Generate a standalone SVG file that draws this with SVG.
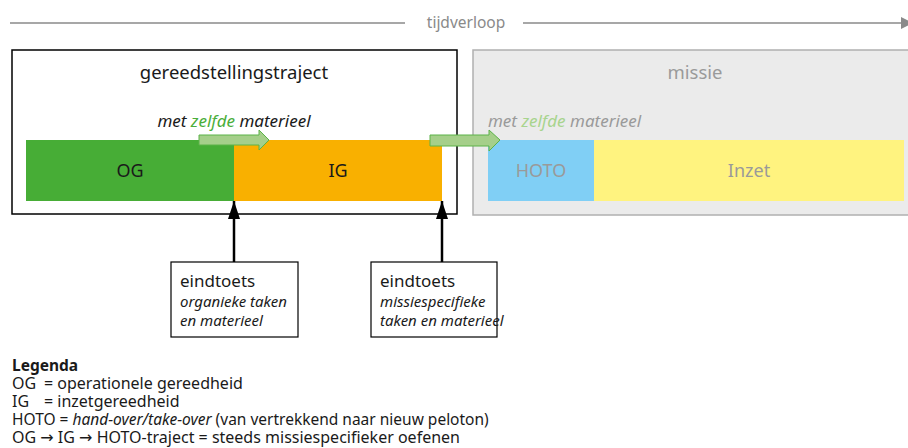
<svg xmlns="http://www.w3.org/2000/svg" width="908" height="448" viewBox="0 0 908 448">
<style>
text{font-family:"Noto Sans","Open Sans","DejaVu Sans",sans-serif;fill:#1a1a1a}
.it{font-style:italic}
.gray{fill:#9a9a9a}
.bar{font-size:18px;text-anchor:middle}
.note{font-size:15px}
.head{font-size:17px}
.leg{font-size:16px}
.mv{fill:#a5cf8a;stroke:#5cb349;stroke-width:1}
</style>
<defs>
<marker id="ah" viewBox="0 0 18 12" refX="18" refY="6" markerWidth="18" markerHeight="12" markerUnits="userSpaceOnUse" orient="auto">
<path d="M0,0 L18,6 L0,12 Z" fill="#000"/>
</marker>
</defs>
<g id="timeline">
<line x1="10" y1="23" x2="405" y2="23" stroke="#8a8a8a" stroke-width="1.6"/>
<line x1="523" y1="23" x2="903" y2="23" stroke="#8a8a8a" stroke-width="1.6"/>
<polygon points="901,17 913,23 901,29" fill="#8a8a8a"/>
<text x="466" y="28" font-size="15.5" text-anchor="middle" style="fill:#8a8a8a">tijdverloop</text>
</g>
<g id="gereedstellingstraject">
<rect x="12" y="50" width="445" height="164" fill="#fff" stroke="#000" stroke-width="1.5"/>
<text x="234" y="79" font-size="18.5" text-anchor="middle">gereedstellingstraject</text>
<text x="234" y="127" font-size="17" text-anchor="middle" class="it">met <tspan style="fill:#4aae3a">zelfde</tspan> materieel</text>
</g>
<g id="missie">
<rect x="473" y="50" width="440" height="165" fill="#ebebeb" stroke="#b0b0b0" stroke-width="1.5"/>
<text x="695" y="79" font-size="18.5" text-anchor="middle" class="gray">missie</text>
<text x="488" y="127" font-size="17" class="it gray">met <tspan style="fill:#a8d48e">zelfde</tspan> materieel</text>
</g>
<g id="OG">
<rect x="26" y="140" width="208" height="61" fill="#47ad36"/>
<text x="130" y="177" class="bar">OG</text>
</g>
<g id="IG">
<rect x="234" y="140" width="208" height="61" fill="#f9b000"/>
<text x="338" y="177" class="bar">IG</text>
</g>
<g id="HOTO">
<rect x="488" y="140" width="106" height="61" fill="#80cff5"/>
<text x="541" y="177" class="bar gray">HOTO</text>
</g>
<g id="Inzet">
<rect x="594" y="140" width="310" height="61" fill="#fff37f"/>
<text x="749" y="177" class="bar gray">Inzet</text>
</g>
<g id="eindtoets1">
<rect x="171" y="262" width="127" height="75" fill="#fff" stroke="#000" stroke-width="1.2"/>
<text x="180" y="287" class="head">eindtoets</text>
<text x="180" y="307" class="note it">organieke taken</text>
<text x="180" y="326" class="note it">en materieel</text>
</g>
<g id="eindtoets2">
<rect x="371" y="262" width="126" height="75" fill="#fff" stroke="#000" stroke-width="1.2"/>
<text x="380" y="287" class="head">eindtoets</text>
<text x="380" y="307" class="note it">missiespecifieke</text>
<text x="380" y="326" class="note it">taken en materieel</text>
</g>
<g id="connectors">
<line x1="234" y1="262" x2="234" y2="201" stroke="#000" stroke-width="2.5" marker-end="url(#ah)"/>
<line x1="442" y1="262" x2="442" y2="201" stroke="#000" stroke-width="2.5" marker-end="url(#ah)"/>
<polygon class="mv" points="199,135 259,135 259,130 269,140 259,150 259,145 199,145"/>
<polygon class="mv" points="430,135 489,135 489,130 500,140 489,151 489,146 430,146"/>
</g>
<g id="legenda">
<text x="12" y="371" font-size="15.5" font-weight="bold">Legenda</text>
<text x="12" y="389" class="leg">OG<tspan x="44">= operationele gereedheid</tspan></text>
<text x="12" y="407" class="leg">IG<tspan x="44">= inzetgereedheid</tspan></text>
<text x="12" y="425" font-size="15.5">HOTO = <tspan class="it">hand-over/take-over</tspan> (van vertrekkend naar nieuw peloton)</text>
<text x="12" y="443" font-size="16">OG → IG → HOTO-traject = steeds missiespecifieker oefenen</text>
</g>
</svg>
